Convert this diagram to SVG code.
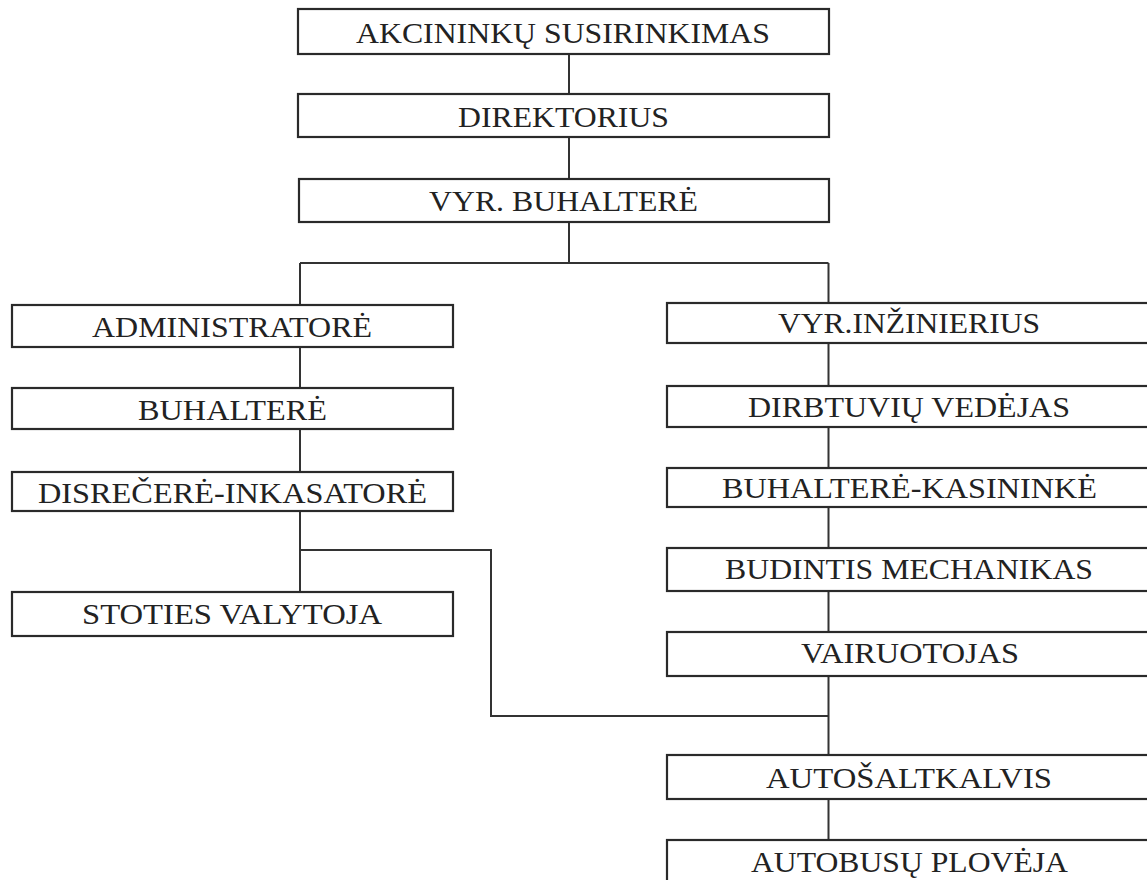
<svg xmlns="http://www.w3.org/2000/svg" width="1147" height="880" viewBox="0 0 1147 880">
<style>
.box{fill:#fff;stroke:#2a2a2a;stroke-width:2.2}
.lbl{font-family:"Liberation Serif","Times New Roman",serif;font-size:29px;fill:#222}
.conn{fill:none;stroke:#333;stroke-width:2}
</style>
<rect width="1147" height="880" fill="#fff"/>
<g id="connectors" class="conn">
<path d="M569 54V94M569 137V179M569 222V263"/>
<path d="M300 263H828.5"/>
<path d="M300 263V305M300 347V388M300 429V472M300 511V592"/>
<path d="M300 550H491V716H828.5"/>
<path d="M828.5 263V303M828.5 343V386M828.5 427V468M828.5 507V548M828.5 591V632M828.5 676V755M828.5 799V840"/>
</g>
<g id="n-akcininku"><rect class="box" x="298" y="9" width="531" height="45"/><text class="lbl" x="356" y="43" textLength="414" lengthAdjust="spacingAndGlyphs">AKCININKŲ SUSIRINKIMAS</text></g>
<g id="n-direktorius"><rect class="box" x="298" y="94" width="531" height="43"/><text class="lbl" x="458" y="127" textLength="211" lengthAdjust="spacingAndGlyphs">DIREKTORIUS</text></g>
<g id="n-vyr-buhaltere"><rect class="box" x="299" y="179" width="530" height="43"/><text class="lbl" x="429" y="211" textLength="269" lengthAdjust="spacingAndGlyphs">VYR. BUHALTERĖ</text></g>
<g id="n-administratore"><rect class="box" x="12" y="305" width="441" height="42"/><text class="lbl" x="92" y="337" textLength="280" lengthAdjust="spacingAndGlyphs">ADMINISTRATORĖ</text></g>
<g id="n-buhaltere"><rect class="box" x="12" y="388" width="441" height="41"/><text class="lbl" x="138" y="420" textLength="189" lengthAdjust="spacingAndGlyphs">BUHALTERĖ</text></g>
<g id="n-disrecere"><rect class="box" x="12" y="472" width="441" height="39"/><text class="lbl" x="38" y="503" textLength="389" lengthAdjust="spacingAndGlyphs">DISREČERĖ-INKASATORĖ</text></g>
<g id="n-stoties"><rect class="box" x="12" y="592" width="441" height="44"/><text class="lbl" x="82" y="624" textLength="300" lengthAdjust="spacingAndGlyphs">STOTIES VALYTOJA</text></g>
<g id="n-vyr-inzinierius"><rect class="box" x="667" y="303" width="484" height="40"/><text class="lbl" x="778" y="333" textLength="262" lengthAdjust="spacingAndGlyphs">VYR.INŽINIERIUS</text></g>
<g id="n-dirbtuviu"><rect class="box" x="667" y="386" width="484" height="41"/><text class="lbl" x="748" y="417" textLength="322" lengthAdjust="spacingAndGlyphs">DIRBTUVIŲ VEDĖJAS</text></g>
<g id="n-buh-kasininke"><rect class="box" x="667" y="468" width="484" height="39"/><text class="lbl" x="722" y="498" textLength="375" lengthAdjust="spacingAndGlyphs">BUHALTERĖ-KASININKĖ</text></g>
<g id="n-budintis"><rect class="box" x="667" y="548" width="484" height="43"/><text class="lbl" x="725" y="579" textLength="368" lengthAdjust="spacingAndGlyphs">BUDINTIS MECHANIKAS</text></g>
<g id="n-vairuotojas"><rect class="box" x="667" y="632" width="484" height="44"/><text class="lbl" x="801" y="663" textLength="218" lengthAdjust="spacingAndGlyphs">VAIRUOTOJAS</text></g>
<g id="n-autosaltkalvis"><rect class="box" x="667" y="755" width="484" height="44"/><text class="lbl" x="766" y="788" textLength="286" lengthAdjust="spacingAndGlyphs">AUTOŠALTKALVIS</text></g>
<g id="n-autobusu"><rect class="box" x="667" y="840" width="484" height="50"/><text class="lbl" x="751" y="872" textLength="317" lengthAdjust="spacingAndGlyphs">AUTOBUSŲ PLOVĖJA</text></g>
</svg>
